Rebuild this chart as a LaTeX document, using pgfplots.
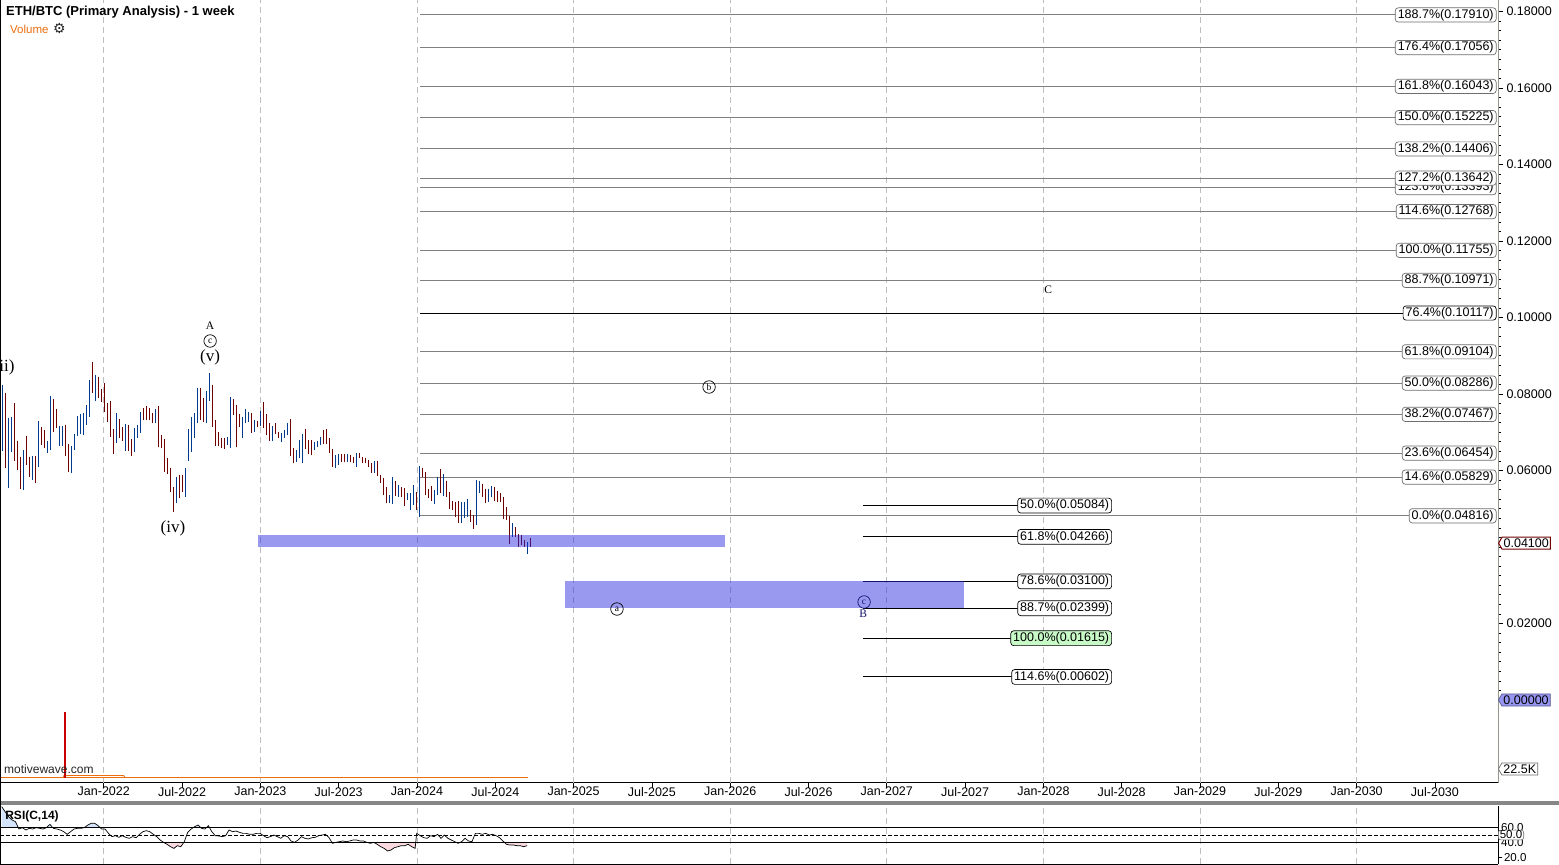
\documentclass[border=0pt]{standalone}
\usepackage{pgfplots}
\pgfplotsset{compat=1.18}
\usepackage{pgfplotstable}
\usepackage{fontspec}
\setmainfont{Liberation Sans}
\newfontfamily\seriffont{Liberation Serif}
\newfontfamily\dejavu{DejaVu Sans}
\usetikzlibrary{shapes.symbols}

\definecolor{barblue}{RGB}{0,58,140}
\definecolor{barred}{RGB}{112,0,0}
\definecolor{zoneblue}{RGB}{40,40,225}
\definecolor{fibgray}{RGB}{128,128,128}
\definecolor{boxgray}{RGB}{110,110,110}
\definecolor{volorange}{RGB}{235,110,15}
\definecolor{volred}{RGB}{200,0,0}
\definecolor{gridgray}{RGB}{190,190,190}
\definecolor{lavender}{RGB}{150,150,240}
\definecolor{greenbox}{RGB}{200,250,200}
\definecolor{navy}{RGB}{20,20,110}
\definecolor{sepgray}{RGB}{135,135,135}
\definecolor{rsiblue}{RGB}{212,228,250}
\definecolor{rsipink}{RGB}{250,218,224}
\definecolor{axisgray}{RGB}{150,150,140}

% weekly bars, week index w (0 = week of 10 May 2021), low and high
\pgfplotstableread{
w lo hi
0 0.06510 0.08235
2 0.05543 0.07373
3 0.06484 0.07399
7 0.05490 0.06536
10 0.05752 0.06379
12 0.06092 0.07294
15 0.06458 0.06771
16 0.06536 0.07948
19 0.06641 0.07164
20 0.06641 0.07164
23 0.05935 0.06641
24 0.06536 0.06954
25 0.06902 0.07425
26 0.06954 0.07477
27 0.06928 0.07503
28 0.07190 0.07712
29 0.07399 0.08366
31 0.07817 0.08497
38 0.06719 0.07503
41 0.06510 0.07216
44 0.06484 0.07111
45 0.06850 0.07190
46 0.06980 0.07530
51 0.07242 0.07608
58 0.05150 0.05830
61 0.05307 0.06065
62 0.06248 0.07085
63 0.06484 0.07399
64 0.06850 0.07503
65 0.07242 0.08157
68 0.07242 0.08079
69 0.07817 0.08549
75 0.06667 0.06876
76 0.06588 0.07922
80 0.06850 0.07399
81 0.07242 0.07608
82 0.07268 0.07530
84 0.07007 0.07320
86 0.07164 0.07556
90 0.06771 0.07164
93 0.06745 0.06980
94 0.06850 0.07059
95 0.06928 0.07242
98 0.06222 0.06536
99 0.06327 0.06797
100 0.06196 0.06954
104 0.06536 0.06745
105 0.06614 0.06771
106 0.06667 0.06876
111 0.06065 0.06405
112 0.06144 0.06431
115 0.06222 0.06431
118 0.06092 0.06458
124 0.05935 0.06248
129 0.05150 0.05360
130 0.05124 0.05830
132 0.05307 0.05621
135 0.05229 0.05412
136 0.04967 0.05412
137 0.05098 0.05621
139 0.04784 0.06118
144 0.05124 0.05490
145 0.05360 0.05830
147 0.05333 0.05909
153 0.04628 0.05177
154 0.04758 0.05177
155 0.04784 0.05255
158 0.04575 0.05752
159 0.05412 0.05726
162 0.05177 0.05516
163 0.05307 0.05595
170 0.04262 0.04628
175 0.03817 0.04131
}\upbars

\pgfplotstableread{
w lo hi
1 0.06065 0.08026
4 0.06248 0.07765
5 0.06013 0.06771
6 0.05516 0.06353
8 0.06144 0.06902
9 0.05830 0.06353
11 0.05673 0.06379
13 0.06667 0.07137
14 0.06588 0.07059
17 0.07007 0.07869
18 0.07111 0.07608
21 0.06379 0.07190
22 0.05961 0.06693
30 0.08026 0.08837
32 0.07895 0.08445
33 0.07791 0.08131
34 0.07530 0.08288
35 0.07268 0.07765
36 0.06876 0.07817
37 0.06431 0.07085
39 0.06850 0.07347
40 0.06771 0.07137
42 0.06510 0.07190
43 0.06379 0.06824
47 0.07320 0.07634
48 0.07320 0.07686
49 0.07320 0.07634
50 0.07242 0.07503
52 0.06614 0.07686
53 0.06588 0.06928
54 0.05961 0.06824
55 0.05909 0.06327
56 0.05438 0.06065
57 0.04915 0.05569
59 0.05281 0.05882
60 0.05438 0.05882
66 0.07320 0.08157
67 0.07268 0.07895
70 0.07137 0.08235
71 0.06641 0.07320
72 0.06641 0.07007
73 0.06588 0.06850
74 0.06562 0.06850
77 0.07451 0.07869
78 0.06614 0.07712
79 0.07137 0.07477
83 0.06980 0.07503
85 0.07137 0.07294
87 0.07111 0.07791
88 0.06928 0.07477
89 0.06771 0.07242
91 0.06954 0.07242
92 0.06850 0.07007
96 0.06379 0.07347
97 0.06196 0.06588
101 0.06562 0.07085
102 0.06431 0.06797
103 0.06405 0.06797
107 0.06693 0.07059
108 0.06693 0.07085
109 0.06458 0.06850
110 0.06092 0.06562
113 0.06222 0.06431
114 0.06222 0.06431
116 0.06222 0.06405
117 0.06196 0.06353
119 0.06327 0.06458
120 0.06196 0.06353
121 0.06196 0.06327
122 0.06092 0.06275
123 0.05935 0.06196
125 0.05856 0.06248
126 0.05673 0.05882
127 0.05360 0.05804
128 0.05150 0.05569
131 0.05333 0.05726
133 0.05307 0.05569
134 0.05072 0.05543
138 0.04967 0.05438
140 0.05830 0.06065
141 0.05360 0.05961
142 0.05281 0.05516
143 0.05203 0.05595
146 0.05412 0.06039
148 0.05307 0.05726
149 0.04994 0.05438
150 0.04967 0.05203
151 0.04784 0.05177
152 0.04628 0.05203
156 0.04654 0.04967
157 0.04471 0.04837
160 0.05307 0.05647
161 0.05150 0.05516
164 0.05203 0.05569
165 0.05177 0.05464
166 0.05177 0.05412
167 0.04732 0.05307
168 0.04706 0.05046
169 0.04079 0.04811
171 0.04262 0.04523
172 0.04000 0.04340
173 0.04052 0.04314
174 0.04000 0.04183
176 0.04000 0.04235
}\downbars

\pgfplotstableread{
x r
2021.348 87.8
2021.370 81.1
2021.392 74.4
2021.414 70.0
2021.436 67.8
2021.458 58.0
2021.480 59.8
2021.502 56.7
2021.524 58.9
2021.546 58.0
2021.568 59.8
2021.590 58.9
2021.612 58.0
2021.634 59.8
2021.656 64.2
2021.678 58.9
2021.700 58.0
2021.722 56.7
2021.744 54.4
2021.766 50.9
2021.788 54.4
2021.810 58.0
2021.832 58.9
2021.854 58.9
2021.876 59.8
2021.898 63.3
2021.920 65.6
2021.942 65.6
2021.964 62.4
2021.986 58.0
2022.008 58.0
2022.030 52.2
2022.052 47.8
2022.074 49.1
2022.096 46.9
2022.118 49.1
2022.140 46.9
2022.162 45.6
2022.184 47.8
2022.206 46.4
2022.228 50.9
2022.250 54.4
2022.272 55.8
2022.294 54.4
2022.316 50.9
2022.338 47.8
2022.360 43.3
2022.382 40.2
2022.404 37.6
2022.426 34.4
2022.448 32.2
2022.470 35.8
2022.492 34.4
2022.514 41.1
2022.536 53.6
2022.558 58.0
2022.580 61.1
2022.602 63.3
2022.624 58.9
2022.646 58.0
2022.668 62.4
2022.690 54.4
2022.712 49.1
2022.734 48.7
2022.756 47.8
2022.778 49.1
2022.800 56.7
2022.822 54.4
2022.844 55.3
2022.866 53.6
2022.888 52.2
2022.910 52.2
2022.932 50.9
2022.954 50.9
2022.976 52.2
2022.998 52.2
2023.020 49.1
2023.042 46.4
2023.064 47.8
2023.086 50.0
2023.108 47.8
2023.130 45.6
2023.152 49.1
2023.174 47.8
2023.196 42.0
2023.218 40.2
2023.240 43.3
2023.262 47.8
2023.284 45.6
2023.306 44.7
2023.328 46.4
2023.350 46.9
2023.372 49.1
2023.394 50.0
2023.416 50.9
2023.438 46.4
2023.460 38.9
2023.482 40.2
2023.504 41.1
2023.526 42.0
2023.548 41.1
2023.570 42.0
2023.592 43.3
2023.614 43.3
2023.636 42.0
2023.658 42.0
2023.680 40.2
2023.702 38.9
2023.724 40.2
2023.746 37.6
2023.768 34.4
2023.790 32.2
2023.812 28.7
2023.834 30.0
2023.856 33.1
2023.878 34.4
2023.900 35.8
2023.922 35.8
2023.944 37.6
2023.966 34.4
2023.988 32.2
2023.998 52.2
2024.021 49.1
2024.043 46.4
2024.065 45.6
2024.087 49.1
2024.109 47.8
2024.131 50.9
2024.153 45.6
2024.175 50.0
2024.197 45.6
2024.219 43.3
2024.241 41.1
2024.263 38.9
2024.285 41.1
2024.307 45.6
2024.329 42.0
2024.351 41.1
2024.373 52.2
2024.395 52.2
2024.417 50.9
2024.439 52.2
2024.461 50.0
2024.483 50.9
2024.505 49.1
2024.527 46.4
2024.549 42.0
2024.571 37.6
2024.593 36.7
2024.615 36.7
2024.637 35.8
2024.659 35.8
2024.681 34.4
2024.703 35.8
}\rsidata

\tikzset{
  fibR/.style={draw=boxgray, fill=white, rounded corners=3pt, inner xsep=2.5pt, inner ysep=1.3pt,
    font=\fontsize{12.5}{13}\selectfont, anchor=east, xshift=-1.5pt, line width=0.7pt},
  fibL/.style={draw=black, fill=white, rounded corners=3pt, inner xsep=2.5pt, inner ysep=1.6pt,
    font=\fontsize{12.5}{13}\selectfont, anchor=east, line width=0.7pt},
  wavebig/.style={font=\seriffont\fontsize{17}{17}\selectfont},
  wavesmall/.style={font=\seriffont\fontsize{11.5}{11.5}\selectfont},
  circ/.style={circle, draw, inner sep=0pt, minimum size=12.5pt, line width=0.7pt,
    font=\seriffont\fontsize{9.5}{9.5}\selectfont},
}

\begin{document}
\begin{tikzpicture}[x=1pt,y=1pt]
\useasboundingbox (0,0) rectangle (1559,865);
\fill[white] (0,0) rectangle (1559,865);

% ---------------- main price panel ----------------
\begin{axis}[
  at={(0pt,82pt)}, anchor=south west,
  scale only axis, width=1498pt, height=783pt,
  xmin=2021.3372, xmax=2030.903,
  ymin=-0.0217, ymax=0.18301,
  clip=false,
  axis x line*=bottom, axis y line*=right,
  x axis line style={black, line width=1pt, -},
  y axis line style={axisgray, line width=0.9pt, -},
  xtick={2022,2022.5,2023,2023.5,2024,2024.5,2025,2025.5,2026,2026.5,2027,2027.5,2028,2028.5,2029,2029.5,2030,2030.5},
  xticklabels={Jan-2022,Jul-2022,Jan-2023,Jul-2023,Jan-2024,Jul-2024,Jan-2025,Jul-2025,Jan-2026,Jul-2026,Jan-2027,Jul-2027,Jan-2028,Jul-2028,Jan-2029,Jul-2029,Jan-2030,Jul-2030},
  extra x ticks={2022,2023,2024,2025,2026,2027,2028,2029,2030},
  extra x tick labels={},
  extra x tick style={grid=major},
  major grid style={gridgray, line width=0.9pt, dash pattern=on 6pt off 4pt},
  ytick={0,0.02,0.04,0.06,0.08,0.1,0.12,0.14,0.16,0.18},
  yticklabels={,0.02000,,0.06000,0.08000,0.10000,0.12000,0.14000,0.16000,0.18000},
  minor y tick num=7,
  tick align=outside,
  major tick length=5pt, minor tick length=3pt,
  tick style={black, line width=0.7pt},
  tick label style={font=\fontsize{12.5}{14}\selectfont},
  xticklabel style={yshift=4.5pt},
]
% Fibonacci extension lines (upper set)
\addplot[fibgray, line width=1pt, unbounded coords=jump] coordinates {
(2024.02,0.17910) (2030.8,0.17910) (2030.8,nan)
(2024.02,0.17056) (2030.8,0.17056) (2030.8,nan)
(2024.02,0.16043) (2030.8,0.16043) (2030.8,nan)
(2024.02,0.15225) (2030.8,0.15225) (2030.8,nan)
(2024.02,0.14406) (2030.8,0.14406) (2030.8,nan)
(2024.02,0.13642) (2030.8,0.13642) (2030.8,nan)
(2024.02,0.13393) (2030.8,0.13393) (2030.8,nan)
(2024.02,0.12768) (2030.8,0.12768) (2030.8,nan)
(2024.02,0.11755) (2030.8,0.11755) (2030.8,nan)
(2024.02,0.10971) (2030.8,0.10971) (2030.8,nan)
(2024.02,0.09104) (2030.8,0.09104) (2030.8,nan)
(2024.02,0.08286) (2030.8,0.08286) (2030.8,nan)
(2024.02,0.07467) (2030.8,0.07467) (2030.8,nan)
(2024.02,0.06454) (2030.8,0.06454) (2030.8,nan)
(2024.02,0.05829) (2030.8,0.05829) (2030.8,nan)
(2024.02,0.04816) (2030.8,0.04816)
};
\addplot[black, line width=1pt] coordinates {(2024.02,0.10117) (2030.8,0.10117)};
% Fibonacci lines (lower set)
\addplot[black, line width=1pt, unbounded coords=jump] coordinates {
(2026.847,0.05084) (2028.40,0.05084) (2028.40,nan)
(2026.847,0.04266) (2028.40,0.04266) (2028.40,nan)
(2026.847,0.03100) (2028.40,0.03100) (2028.40,nan)
(2026.847,0.02399) (2028.40,0.02399) (2028.40,nan)
(2026.847,0.01615) (2028.40,0.01615) (2028.40,nan)
(2026.847,0.00602) (2028.40,0.00602)
};
% weekly price bars
\addplot[draw=none, mark=none, error bars/.cd, y dir=plus, y explicit, error mark=none,
  error bar style={draw=barblue, line width=1.4pt}]
  table[x expr=2021.352+0.019165*\thisrow{w}, y=lo, y error expr=\thisrow{hi}-\thisrow{lo}] {\upbars};
\addplot[draw=none, mark=none, error bars/.cd, y dir=plus, y explicit, error mark=none,
  error bar style={draw=barred, line width=1.4pt}]
  table[x expr=2021.352+0.019165*\thisrow{w}, y=lo, y error expr=\thisrow{hi}-\thisrow{lo}] {\downbars};
% target zones
\addplot[fill=zoneblue, fill opacity=0.47, draw=none] coordinates {(2022.985,0.0400) (2025.966,0.0400) (2025.966,0.04314) (2022.985,0.04314)} -- cycle;
\addplot[fill=zoneblue, fill opacity=0.47, draw=none] coordinates {(2024.945,0.02399) (2027.493,0.02399) (2027.493,0.03100) (2024.945,0.03100)} -- cycle;

% labels of the upper set
\node[fibR] at (axis cs:2030.903,0.17910) {188.7\%(0.17910)};
\node[fibR] at (axis cs:2030.903,0.17056) {176.4\%(0.17056)};
\node[fibR] at (axis cs:2030.903,0.16043) {161.8\%(0.16043)};
\node[fibR] at (axis cs:2030.903,0.15225) {150.0\%(0.15225)};
\node[fibR] at (axis cs:2030.903,0.14406) {138.2\%(0.14406)};
\node[fibR] at (axis cs:2030.903,0.13393) {123.6\%(0.13393)};
\node[fibR] at (axis cs:2030.903,0.13642) {127.2\%(0.13642)};
\node[fibR] at (axis cs:2030.903,0.12768) {114.6\%(0.12768)};
\node[fibR] at (axis cs:2030.903,0.11755) {100.0\%(0.11755)};
\node[fibR] at (axis cs:2030.903,0.10971) {88.7\%(0.10971)};
\node[fibR, draw=black] at (axis cs:2030.903,0.10117) {76.4\%(0.10117)};
\node[fibR] at (axis cs:2030.903,0.09104) {61.8\%(0.09104)};
\node[fibR] at (axis cs:2030.903,0.08286) {50.0\%(0.08286)};
\node[fibR] at (axis cs:2030.903,0.07467) {38.2\%(0.07467)};
\node[fibR] at (axis cs:2030.903,0.06454) {23.6\%(0.06454)};
\node[fibR] at (axis cs:2030.903,0.05829) {14.6\%(0.05829)};
\node[fibR] at (axis cs:2030.903,0.04816) {0.0\%(0.04816)};
% labels of the lower set
\node[fibL] at (axis cs:2028.438,0.05084) {50.0\%(0.05084)};
\node[fibL] at (axis cs:2028.438,0.04266) {61.8\%(0.04266)};
\node[fibL] at (axis cs:2028.438,0.03100) {78.6\%(0.03100)};
\node[fibL] at (axis cs:2028.438,0.02399) {88.7\%(0.02399)};
\node[fibL, fill=greenbox] at (axis cs:2028.438,0.01615) {100.0\%(0.01615)};
\node[fibL] at (axis cs:2028.438,0.00602) {114.6\%(0.00602)};

% wave labels
\node[wavebig] at (axis cs:2021.363,0.08706) {(ii)};
\node[wavesmall] at (axis cs:2022.679,0.09778) {A};
\node[circ] at (axis cs:2022.679,0.09386) {c};
\node[wavebig] at (axis cs:2022.679,0.08967) {(v)};
\node[wavebig] at (axis cs:2022.442,0.04497) {(iv)};
\node[circ] at (axis cs:2025.865,0.08183) {b};
\node[circ] at (axis cs:2025.277,0.02379) {a};
\node[circ, draw=navy, text=navy] at (axis cs:2026.855,0.02562) {c};
\node[wavesmall, text=navy] at (axis cs:2026.849,0.02248) {B};
\node[wavesmall] at (axis cs:2028.030,0.10719) {C};

% price markers on the scale
\node[signal, signal to=west, signal pointer angle=120, draw=barred, line width=1pt, fill=white,
  inner sep=1.6pt, font=\fontsize{12.5}{13}\selectfont, anchor=west] at (axis cs:2030.903,0.041) {0.04100};
\node[signal, signal to=west, signal pointer angle=120, draw=lavender!60!black, line width=0.7pt, fill=lavender,
  inner sep=1.6pt, font=\fontsize{12.5}{13}\selectfont, anchor=west] at (axis cs:2030.903,0) {0.00000};
\node[signal, signal to=west, signal pointer angle=120, draw=boxgray, line width=0.7pt, fill=white,
  inner sep=1.6pt, font=\fontsize{12.5}{13}\selectfont, anchor=west] at (axis cs:2030.903,-0.01804) {22.5K};
\end{axis}

% ---------------- volume (overlay) ----------------
\begin{axis}[
  at={(0pt,82pt)}, anchor=south west,
  scale only axis, width=1498pt, height=83pt,
  xmin=2021.3372, xmax=2030.903, ymin=-12.5, ymax=195,
  hide axis, clip=false,
]
\addplot[volorange, line width=1.2pt] coordinates {(2021.3372,0.8) (2024.71,0.8)};
\addplot[volorange, line width=0.8pt] coordinates {(2021.742,0.8) (2021.745,6) (2022.128,6) (2022.135,0.8)};
\addplot[volred, line width=1.3pt] coordinates {(2021.752,0) (2021.752,165)};
\end{axis}

% ---------------- RSI panel ----------------
\begin{axis}[
  at={(0pt,0.5pt)}, anchor=south west,
  scale only axis, width=1498pt, height=58.5pt,
  xmin=2021.3372, xmax=2030.903, ymin=10.67, ymax=88.67,
  clip=false,
  axis x line*=bottom, axis y line*=right,
  x axis line style={black, line width=1pt, -},
  y axis line style={black, line width=0.9pt, -},
  xtick={2022,2023,2024,2025,2026,2027,2028,2029,2030}, xticklabels={},
  xmajorgrids, major grid style={gridgray, line width=0.9pt, dash pattern=on 6pt off 4pt},
  x tick style={draw=none},
  ytick={20}, yticklabels={20.0},
  tick align=outside, major tick length=4pt,
  y tick style={black, line width=0.7pt},
  yticklabel style={font=\fontsize{11.5}{12}\selectfont, xshift=-1.5pt},
]
\begin{scope}
\clip (axis cs:2021.3372,60) rectangle (axis cs:2030.903,88.67);
\addplot[fill=rsiblue, draw=none] table[x=x, y=r] {\rsidata} \closedcycle;
\end{scope}
\begin{scope}
\clip (axis cs:2021.3372,10.67) rectangle (axis cs:2030.903,40);
\addplot[fill=rsipink, draw=none] table[x=x, y=r] {\rsidata} |- (axis cs:2021.348,95) -- cycle;
\end{scope}
\addplot[black, line width=1pt] coordinates {(2021.3372,60) (2030.903,60)};
\addplot[black, line width=1pt] coordinates {(2021.3372,40) (2030.903,40)};
\addplot[black, line width=0.9pt, dash pattern=on 3.5pt off 2.5pt] coordinates {(2021.3372,50) (2030.903,50)};
\addplot[black, line width=0.7pt] table[x=x, y=r] {\rsidata};
\node[anchor=west, font=\bfseries\fontsize{12}{13}\selectfont, inner sep=0pt] at (axis cs:2021.37,75.3) {RSI(C,14)};
\node[anchor=west, font=\fontsize{11.5}{12}\selectfont, inner sep=1pt] at (axis cs:2030.903,60) {\hspace*{2pt}60.0};
\node[anchor=west, font=\fontsize{11.5}{12}\selectfont, inner sep=1pt] at (axis cs:2030.903,40) {\hspace*{2pt}40.0};
\node[anchor=west, draw=boxgray, fill=white, rounded corners=2.5pt, font=\fontsize{11.5}{12}\selectfont,
  inner xsep=1.5pt, inner ysep=0.8pt, line width=0.6pt] at (axis cs:2030.903,50) {50.0};
\end{axis}

% separators, frame and captions
\fill[sepgray] (0,60) rectangle (1559,63.5);
\draw[black, line width=1.3pt] (0.65,0) -- (0.65,865);
\node[anchor=west, font=\bfseries\fontsize{13}{15}\selectfont, inner sep=0pt] at (6,853) {ETH/BTC (Primary Analysis) - 1 week};
\node[anchor=west, text=volorange, font=\fontsize{11.5}{13}\selectfont, inner sep=0pt] at (10,836) {Volume};
\node[anchor=west, text=black!85, font=\dejavu\fontsize{14}{14}\selectfont, inner sep=0pt] at (53,836.5) {⚙};
\node[anchor=west, text=black!85, font=\fontsize{12}{14}\selectfont, inner sep=0pt] at (4,96) {motivewave.com};
\end{tikzpicture}
\end{document}
